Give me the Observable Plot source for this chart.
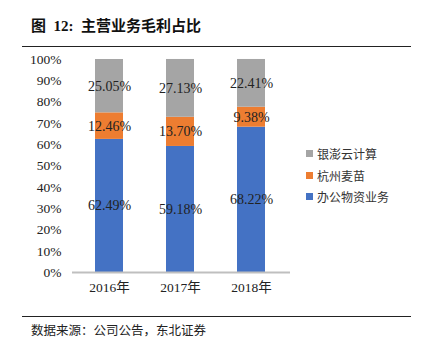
<!DOCTYPE html>
<html><head><meta charset="utf-8">
<script src="https://cdn.jsdelivr.net/npm/d3@7"></script>
<script src="https://cdn.jsdelivr.net/npm/@observablehq/plot@0.6"></script>
<style>
body{margin:0;width:421px;height:348px;position:relative;background:#fff;overflow:hidden;font-family:"Liberation Serif","Noto Sans CJK SC",serif;}
#title{position:absolute;left:31px;top:14px;font-family:"Liberation Serif","Noto Sans CJK SC",serif;font-weight:bold;font-size:15px;color:#111;white-space:nowrap;}
#title .cj{font-family:"Noto Sans CJK SC";font-weight:bold;}
.rule{position:absolute;left:22px;width:389px;height:1px;background:#222;}
#chart{position:absolute;left:0;top:50px;}
#chart svg, #chart svg text{font-family:"Liberation Serif","Noto Sans CJK SC",serif !important;}
#legend{position:absolute;left:306px;top:143px;font-family:"Noto Sans CJK SC";font-size:12px;color:#333;}
#legend div{height:21.5px;display:flex;align-items:center;white-space:nowrap;}
#legend span.sw{display:inline-block;width:7px;height:7px;margin-right:4px;}
#caption{position:absolute;left:31px;top:320px;font-family:"Noto Sans CJK SC";font-size:12.5px;color:#222;white-space:nowrap;}
</style></head>
<body>
<div id="title"><span class="cj">图</span>&nbsp; 12:&nbsp; <span class="cj">主营业务毛利占比</span></div>
<div class="rule" style="top:46px"></div>
<div id="chart"></div>
<div id="legend"></div>
<div class="rule" style="top:316px"></div>
<div id="caption">数据来源：公司公告，东北证券</div>
<script>
const years = ["2016年", "2017年", "2018年"];
const seriesNames = ["办公物资业务", "杭州麦苗", "银澎云计算"];
const office = [62.49, 59.18, 68.22];
const maimiao = [12.46, 13.70, 9.38];
const yinpeng = [25.05, 27.13, 22.41];
const colors = ["#4472C4", "#ED7D31", "#A5A5A5"];
const yTicks = [0,10,20,30,40,50,60,70,80,90,100];

const seriesVals = [office, maimiao, yinpeng];
const rows = [];
years.forEach((y, i) => {
  seriesNames.forEach((s, j) => rows.push({year: y, series: s, value: seriesVals[j][i]}));
});

const chart = Plot.plot({
  width: 300, height: 256,
  marginLeft: 73, marginRight: 12, marginTop: 9, marginBottom: 34,
  style: {fontSize: "13.5px", color: "#222"},
  x: {domain: years, paddingInner: 0.6, paddingOuter: 0.3, label: null, tickSize: 0, tickPadding: 10},
  y: {domain: [0, 100], ticks: yTicks, tickFormat: d => d + "%", label: null, tickSize: 0, tickPadding: 12},
  color: {domain: seriesNames, range: colors},
  marks: [
    Plot.barY(rows, Plot.stackY({x: "year", y: "value", fill: "series", order: seriesNames})),
    Plot.text(rows, Plot.stackY({x: "year", y: "value", z: "series", order: seriesNames, text: d => d.value.toFixed(2) + "%", fill: "#222", fontSize: 14})),
    Plot.ruleY([0], {stroke: "#BFBFBF", strokeWidth: 2, insetLeft: -1, insetRight: -2})
  ]
});
document.getElementById("chart").appendChild(chart);

const legend = document.getElementById("legend");
[2, 1, 0].forEach(j => {
  const d = document.createElement("div");
  d.innerHTML = `<span class="sw" style="background:${colors[j]}"></span>${seriesNames[j]}`;
  legend.appendChild(d);
});
</script>
</body></html>
